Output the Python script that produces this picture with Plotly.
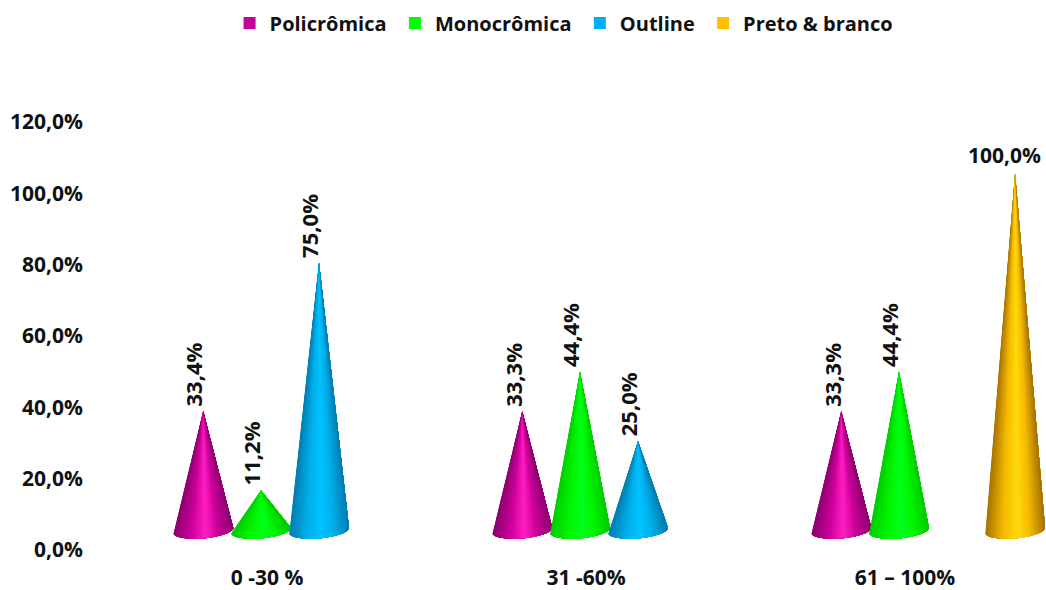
import math
import plotly.graph_objects as go

# Chart data
categories = ["0 -30 %", "31 -60%", "61 – 100%"]
series_names = ["Policrômica", "Monocrômica", "Outline", "Preto & branco"]
policromica = [33.4, 33.3, 33.3]
monocromica = [11.2, 44.4, 44.4]
outline = [75.0, 25.0, None]
preto_branco = [None, None, 100.0]
y_ticks = [0, 20, 40, 60, 80, 100, 120]

series_values = [policromica, monocromica, outline, preto_branco]
legend_colors = ["#C6009A", "#00FF00", "#00B0F0", "#FFC000"]
edge_colors = [(140, 0, 110), (0, 205, 0), (0, 125, 175), (165, 115, 0)]
mid_colors = [(205, 0, 155), (0, 245, 0), (0, 175, 235), (245, 185, 0)]
glow_colors = [(255, 30, 195), (0, 255, 30), (0, 195, 255), (255, 218, 10)]

# Cone geometry in axis units
series_offset = [-0.2, -0.019, 0.163, 0.345]
floor_level = 5.5
radius_x = 0.094
radius_y = 2.25
tilt = 0.7
steps = 44

FONT = "Open Sans"
INK = "#111111"


def mix(a, b, f):
    return tuple(round(a[i] + (b[i] - a[i]) * f) for i in range(3))


def shade(k, u):
    # u runs from -1 (left rim) to 1 (right rim); highlight sits just right of centre
    d = abs(u - 0.08) / (1.08 if u < 0.08 else 0.92)
    if d < 0.45:
        c = mix(glow_colors[k], mid_colors[k], d / 0.45)
    else:
        c = mix(mid_colors[k], edge_colors[k], (d - 0.45) / 0.55)
    return "rgb(%d,%d,%d)" % c


def rim(cx, t):
    return (cx + radius_x * math.cos(t),
            floor_level + radius_y * math.sin(t) + tilt * math.cos(t))


fig = go.Figure()
annotations = []

for g in range(len(categories)):
    for k in range(len(series_names)):
        v = series_values[k][g]
        if v is None:
            continue
        cx = g + series_offset[k]
        apex = (cx, floor_level + v)
        angles = [math.pi + math.pi * i / steps for i in range(steps + 1)]
        # Each fan runs to the right rim so neighbouring wedges leave no seams
        for i in range(steps):
            pts = [rim(cx, t) for t in angles[i:]]
            fig.add_trace(go.Scatter(
                x=[apex[0]] + [p[0] for p in pts] + [apex[0]],
                y=[apex[1]] + [p[1] for p in pts] + [apex[1]],
                mode="lines", fill="toself", line=dict(width=0),
                fillcolor=shade(k, math.cos(angles[i] + math.pi / steps / 2)),
                showlegend=False, hoverinfo="skip"))
        label = f"{v:.1f}".replace(".", ",") + "%"
        upright = v >= 100
        annotations.append(dict(
            x=cx, y=apex[1], xref="x", yref="y", text=f"<b>{label}</b>",
            showarrow=False, textangle=0 if upright else -90,
            xanchor="center", yanchor="bottom",
            xshift=-11 if upright else -10, yshift=3,
            font=dict(family=FONT, size=22 if not upright else 21, color=INK)))

for name, color in zip(series_names, legend_colors):
    # The trailing thin space opens the gap between legend entries a little
    fig.add_trace(go.Scatter(x=[None], y=[None], mode="markers", name=name + "\u2009",
                             marker=dict(symbol="square", size=12, color=color)))

fig.update_layout(
    width=1046, height=590, autosize=False,
    margin=dict(l=90, r=0, t=122, b=40),
    paper_bgcolor="white", plot_bgcolor="white",
    font=dict(family=FONT, size=20, color=INK),
    annotations=annotations,
    legend=dict(orientation="h", x=0.146, xanchor="left", y=1.2315, yanchor="middle",
                font=dict(family=FONT, size=20, color=INK, weight="bold"),
                itemwidth=30, tracegroupgap=0),
    xaxis=dict(range=[(90 - 267) / 319, (1046 - 267) / 319],
               tickmode="array", tickvals=list(range(len(categories))),
               ticktext=[f"<b>{c}</b>" for c in categories],
               showgrid=False, zeroline=False, showline=False, ticks="",
               automargin=False, ticklabelstandoff=13, tickfont=dict(size=21)),
    yaxis=dict(range=[0, 120], tickmode="array", tickvals=y_ticks,
               ticktext=[f"<b>{t:.1f}</b>".replace(".", ",").replace("</b>", "%</b>") for t in y_ticks],
               showgrid=False, zeroline=False, showline=False, ticks="",
               automargin=False, ticklabelstandoff=6, tickfont=dict(size=21)),
)

fig.write_html("out.html")
